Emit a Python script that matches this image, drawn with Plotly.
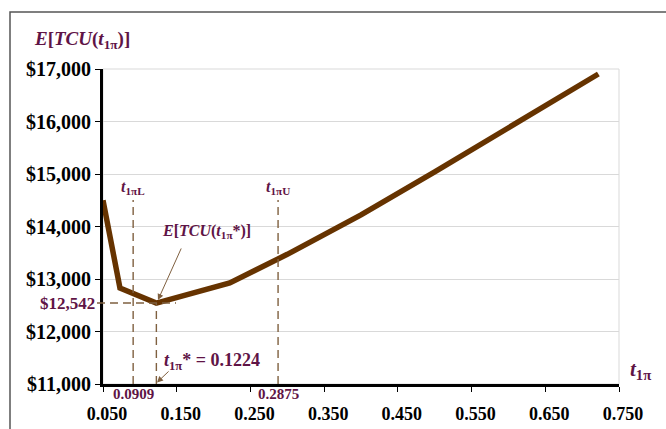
import plotly.graph_objects as go

# Expected total cost curve E[TCU(t1π)] against the cycle fraction t1π
t_values = [0.050, 0.073, 0.1224, 0.222, 0.300, 0.400, 0.500, 0.600, 0.722]
cost_values = [14500, 12830, 12542, 12925, 13470, 14220, 15040, 15880, 16905]

x_ticks = [0.050, 0.150, 0.250, 0.350, 0.450, 0.550, 0.650, 0.750]
x_tick_text = ["0.050", "0.150", "0.250", "0.350", "0.450", "0.550", "0.650", "0.750"]
y_ticks = [11000, 12000, 13000, 14000, 15000, 16000, 17000]
y_tick_text = ["$11,000", "$12,000", "$13,000", "$14,000", "$15,000", "$16,000", "$17,000"]

t_lower = 0.0909
t_upper = 0.2875
t_opt = 0.1224
cost_opt = 12542
bound_top = 14505

SERIF = "Liberation Serif"
PURPLE = "#5F1446"
BROWN = "#663300"
DASH = "#7F6040"

L, R, T, B = 103, 47, 69, 45
W, H = 666, 429
pw, ph = W - L - R, H - T - B


def px_to_paper_x(px):
    return (px - L) / pw


def px_to_paper_y(py):
    return (H - B - py) / ph


fig = go.Figure()

fig.add_trace(go.Scatter(
    x=t_values, y=cost_values, mode="lines",
    line=dict(color=BROWN, width=5.5),
    hoverinfo="skip", showlegend=False,
))

shapes = []
# light frame round the plot area
shapes.append(dict(type="rect", xref="paper", yref="paper", x0=0, x1=1, y0=0, y1=1,
                   line=dict(color="#D9D9D9", width=1), layer="below"))
# outer chart border (left and top edges)
shapes.append(dict(type="rect", xref="paper", yref="paper",
                   x0=px_to_paper_x(10), x1=px_to_paper_x(700),
                   y0=px_to_paper_y(470), y1=px_to_paper_y(12),
                   line=dict(color="#555555", width=1.5), layer="below"))
# dashed guide lines
GUIDE = dict(color=DASH, width=1.4, dash="8px,5px")
for tv, top in [(t_lower, bound_top), (t_upper, bound_top), (t_opt, cost_opt)]:
    shapes.append(dict(type="line", xref="x", yref="y", x0=tv, x1=tv, y0=11000, y1=top,
                       line=GUIDE))
shapes.append(dict(type="line", xref="paper", yref="y",
                   x0=px_to_paper_x(97), x1=px_to_paper_x(176), y0=cost_opt, y1=cost_opt,
                   line=GUIDE))

annotations = [
    dict(text="<b><i>E</i>[<i>TCU</i>(<i>t</i><sub>1π</sub>)]</b>", xref="paper", yref="paper",
         x=px_to_paper_x(32), y=px_to_paper_y(40), xanchor="left", yanchor="middle",
         showarrow=False, font=dict(family=SERIF, size=19, color=PURPLE)),
    dict(text="<b><i>t</i><sub>1π</sub></b>", xref="paper", yref="paper",
         x=px_to_paper_x(640), y=px_to_paper_y(370), xanchor="center", yanchor="middle",
         showarrow=False, font=dict(family=SERIF, size=21, color=PURPLE)),
    dict(text="<b><i>t</i><sub>1πL</sub></b>", xref="x", yref="paper",
         x=t_lower, y=px_to_paper_y(187), xanchor="center", yanchor="middle",
         showarrow=False, font=dict(family=SERIF, size=16, color=PURPLE)),
    dict(text="<b><i>t</i><sub>1πU</sub></b>", xref="x", yref="paper",
         x=t_upper, y=px_to_paper_y(187), xanchor="center", yanchor="middle",
         showarrow=False, font=dict(family=SERIF, size=16, color=PURPLE)),
    dict(text="<b><i>E</i>[<i>TCU</i>(<i>t</i><sub>1π</sub>*)]</b>", xref="paper", yref="paper",
         x=px_to_paper_x(160), y=px_to_paper_y(232), xanchor="left", yanchor="middle",
         showarrow=False, font=dict(family=SERIF, size=16, color=PURPLE)),
    dict(text="<b><i>t</i><sub>1π</sub>* = %.4f</b>" % t_opt, xref="paper", yref="paper",
         x=px_to_paper_x(162), y=px_to_paper_y(361), xanchor="left", yanchor="middle",
         showarrow=False, font=dict(family=SERIF, size=18, color=PURPLE)),
    dict(text="<b>$12,542</b>", xref="paper", yref="y",
         x=px_to_paper_x(97), y=cost_opt, xanchor="right", yanchor="middle",
         showarrow=False, font=dict(family=SERIF, size=17, color=PURPLE)),
    dict(text="<b>%.4f</b>" % t_lower, xref="x", yref="paper",
         x=t_lower, y=px_to_paper_y(394), xanchor="center", yanchor="middle",
         showarrow=False, font=dict(family=SERIF, size=15, color=PURPLE)),
    dict(text="<b>%.4f</b>" % t_upper, xref="x", yref="paper",
         x=t_upper, y=px_to_paper_y(394), xanchor="center", yanchor="middle",
         showarrow=False, font=dict(family=SERIF, size=15, color=PURPLE)),
    # arrows pointing at the optimum
    dict(text="", x=0.1246, y=12600, ax=0.157, ay=13610, xref="x", yref="y",
         axref="x", ayref="y", showarrow=True, arrowhead=2, arrowsize=1.2,
         arrowwidth=1, arrowcolor=DASH),
    dict(text="", x=0.1233, y=11030, ax=0.141, ay=11267, xref="x", yref="y",
         axref="x", ayref="y", showarrow=True, arrowhead=2, arrowsize=1.2,
         arrowwidth=1, arrowcolor=DASH),
]

fig.update_layout(
    width=W, height=H,
    margin=dict(l=L, r=R, t=T, b=B, pad=0, autoexpand=False),
    paper_bgcolor="white", plot_bgcolor="white",
    shapes=shapes, annotations=annotations,
    showlegend=False,
    xaxis=dict(range=[0.05, 0.75], tickvals=x_ticks,
               ticktext=["<b>%s</b>" % s for s in x_tick_text],
               showgrid=False, zeroline=False, showline=True, linecolor="black", linewidth=3,
               ticks="outside", ticklen=5, tickwidth=1, tickcolor="black",
               ticklabelstandoff=6, ticklabelshift=4, automargin=False,
               tickfont=dict(family=SERIF, size=18, color="black")),
    yaxis=dict(range=[11000, 17000], tickvals=y_ticks,
               ticktext=["<b>%s</b>" % s for s in y_tick_text],
               showgrid=True, gridcolor="#D9D9D9", gridwidth=1, zeroline=False,
               showline=True, linecolor="black", linewidth=3, automargin=False,
               ticks="outside", ticklen=5, tickwidth=1, tickcolor="black",
               tickfont=dict(family=SERIF, size=20, color="black")),
)

fig.write_html("out.html")
